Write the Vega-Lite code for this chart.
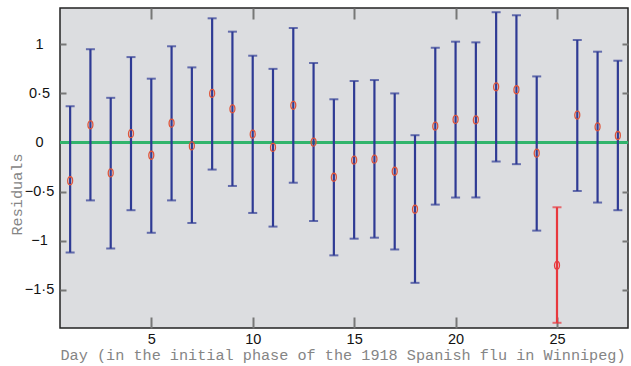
{
  "$schema": "https://vega.github.io/schema/vega-lite/v6.json",
  "width": 568,
  "height": 320,
  "autosize": {"type": "none"},
  "padding": {"left": 60, "top": 8, "right": 3, "bottom": 38},
  "background": "white",
  "config": {
    "view": {"fill": "#dcdde0", "stroke": "#222", "strokeWidth": 1.5},
    "axis": {
      "domain": false, "grid": false,
      "labelFont": "Liberation Sans", "labelFontSize": 14.5, "labelColor": "#111",
      "tickColor": "#777", "tickWidth": 2,
      "titleFont": "Liberation Mono", "titleFontSize": 15.2, "titleColor": "#858585", "titleFontWeight": "normal"
    }
  },
  "data": {"values": [
    {"day": 1, "res": -0.39, "lo": -1.12, "hi": 0.37, "grp": "a"},
    {"day": 2, "res": 0.18, "lo": -0.59, "hi": 0.95, "grp": "a"},
    {"day": 3, "res": -0.31, "lo": -1.08, "hi": 0.455, "grp": "a"},
    {"day": 4, "res": 0.09, "lo": -0.69, "hi": 0.87, "grp": "a"},
    {"day": 5, "res": -0.13, "lo": -0.92, "hi": 0.65, "grp": "a"},
    {"day": 6, "res": 0.197, "lo": -0.59, "hi": 0.98, "grp": "a"},
    {"day": 7, "res": -0.035, "lo": -0.82, "hi": 0.765, "grp": "a"},
    {"day": 8, "res": 0.5, "lo": -0.276, "hi": 1.265, "grp": "a"},
    {"day": 9, "res": 0.343, "lo": -0.443, "hi": 1.129, "grp": "a"},
    {"day": 10, "res": 0.085, "lo": -0.718, "hi": 0.884, "grp": "a"},
    {"day": 11, "res": -0.05, "lo": -0.857, "hi": 0.75, "grp": "a"},
    {"day": 12, "res": 0.378, "lo": -0.41, "hi": 1.166, "grp": "a"},
    {"day": 13, "res": 0.003, "lo": -0.8, "hi": 0.81, "grp": "a"},
    {"day": 14, "res": -0.354, "lo": -1.15, "hi": 0.44, "grp": "a"},
    {"day": 15, "res": -0.18, "lo": -0.98, "hi": 0.626, "grp": "a"},
    {"day": 16, "res": -0.17, "lo": -0.97, "hi": 0.636, "grp": "a"},
    {"day": 17, "res": -0.293, "lo": -1.09, "hi": 0.5, "grp": "a"},
    {"day": 18, "res": -0.68, "lo": -1.43, "hi": 0.074, "grp": "a"},
    {"day": 19, "res": 0.166, "lo": -0.633, "hi": 0.965, "grp": "a"},
    {"day": 20, "res": 0.235, "lo": -0.561, "hi": 1.027, "grp": "a"},
    {"day": 21, "res": 0.23, "lo": -0.56, "hi": 1.02, "grp": "a"},
    {"day": 22, "res": 0.567, "lo": -0.194, "hi": 1.327, "grp": "a"},
    {"day": 23, "res": 0.537, "lo": -0.221, "hi": 1.296, "grp": "a"},
    {"day": 24, "res": -0.109, "lo": -0.898, "hi": 0.673, "grp": "a"},
    {"day": 25, "res": -1.252, "lo": -1.837, "hi": -0.66, "grp": "b"},
    {"day": 26, "res": 0.279, "lo": -0.494, "hi": 1.044, "grp": "a"},
    {"day": 27, "res": 0.159, "lo": -0.612, "hi": 0.925, "grp": "a"},
    {"day": 28, "res": 0.071, "lo": -0.69, "hi": 0.833, "grp": "a"}
  ]},
  "resolve": {"axis": {"x": "independent", "y": "independent"}, "scale": {"color": "independent"}},
  "layer": [
    {
      "mark": {"type": "rule", "color": "#33b46b", "strokeWidth": 1.3},
      "encoding": {"y": {"datum": 0, "type": "quantitative", "scale": {"domain": [-1.89, 1.37], "nice": false, "zero": false}, "axis": null}}
    },
    {
      "mark": {"type": "rule", "strokeWidth": 2.2},
      "encoding": {
        "x": {"field": "day", "type": "quantitative", "scale": {"domain": [0.5, 28.5], "nice": false, "zero": false},
          "axis": {"orient": "bottom", "values": [5, 10, 15, 20, 25], "tickSize": -11, "labelPadding": 15,
            "title": "Day (in the initial phase of the 1918 Spanish flu in Winnipeg)", "titleAnchor": "start", "titleAlign": "left", "titleBaseline": "alphabetic", "titleX": 0, "titleY": 31}},
        "y": {"field": "lo", "type": "quantitative", "scale": {"domain": [-1.89, 1.37], "nice": false, "zero": false},
          "axis": {"orient": "left", "values": [-1.5, -1, -0.5, 0, 0.5, 1], "tickSize": -6, "labelPadding": 27, "labelAlign": "center",
            "labelExpr": "replace(replace(format(datum.value, '~g'), '.', '·'), '-', '−')",
            "title": "Residuals", "titleAngle": 270, "titleAlign": "center", "titleBaseline": "middle", "titleX": -44, "titleY": 186}},
        "y2": {"field": "hi"},
        "color": {"field": "grp", "type": "nominal", "scale": {"domain": ["a", "b"], "range": ["#2e3a94", "#e8383d"]}, "legend": null}
      }
    },
    {
      "mark": {"type": "tick", "orient": "horizontal", "size": 9, "thickness": 2},
      "encoding": {
        "x": {"field": "day", "type": "quantitative", "axis": null},
        "y": {"field": "hi", "type": "quantitative", "axis": null},
        "color": {"field": "grp", "type": "nominal", "scale": {"domain": ["a", "b"], "range": ["#2e3a94", "#e8383d"]}, "legend": null}
      }
    },
    {
      "mark": {"type": "tick", "orient": "horizontal", "size": 9, "thickness": 2},
      "encoding": {
        "x": {"field": "day", "type": "quantitative", "axis": null},
        "y": {"field": "lo", "type": "quantitative", "axis": null},
        "color": {"field": "grp", "type": "nominal", "scale": {"domain": ["a", "b"], "range": ["#2e3a94", "#e8383d"]}, "legend": null}
      }
    },
    {
      "mark": {"type": "point", "filled": false, "strokeWidth": 1.3, "size": 64, "opacity": 1, "shape": "M0,-1 A0.62,1 0 1,1 0,1 A0.62,1 0 1,1 0,-1 Z"},
      "encoding": {
        "x": {"field": "day", "type": "quantitative",
          "axis": {"orient": "top", "values": [5, 10, 15, 20, 25], "tickSize": -11, "labels": false, "title": null}},
        "y": {"field": "res", "type": "quantitative",
          "axis": {"orient": "right", "values": [-1.5, -1, -0.5, 0, 0.5, 1], "tickSize": -6, "labels": false, "title": null}},
        "color": {"field": "grp", "type": "nominal", "scale": {"domain": ["a", "b"], "range": ["#e0553a", "#e8383d"]}, "legend": null}
      }
    }
  ]
}
